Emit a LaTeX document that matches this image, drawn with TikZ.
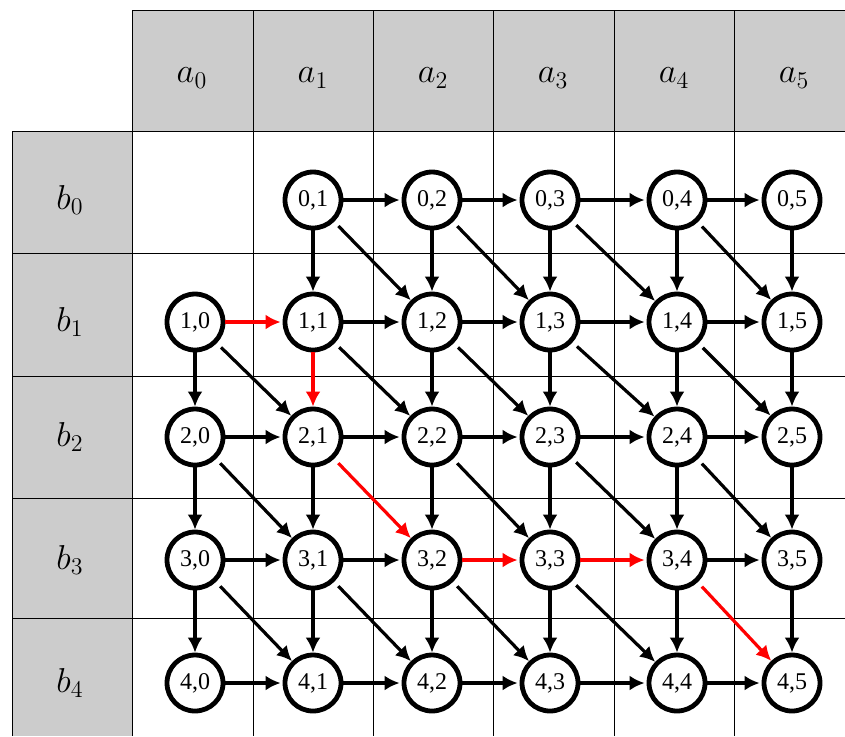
\documentclass[tikz,border=0pt]{standalone}
\usepackage{fontspec}
\newfontfamily\cellfont{Liberation Serif}
\usetikzlibrary{arrows.meta}
\definecolor{hdrgray}{RGB}{204,204,204}
% edges on the red path: r = right, d = down, g = diagonal
\newcommand\markhot[1]{\expandafter\def\csname hot#1\endcsname{}}
\markhot{10r}\markhot{11d}\markhot{21g}\markhot{32r}\markhot{33r}\markhot{34g}

\begin{document}
\begin{tikzpicture}[>={Latex[length=7.5pt,width=7.5pt]},x=.5pt,y=-.5pt,
  cell/.style={circle,draw,line width=2.4pt,minimum size=28pt,inner sep=0pt,font=\cellfont\fontsize{12}{14}\selectfont},
  hdr/.style={font=\fontsize{17}{20}\selectfont},
  gl/.style={line width=.5pt},
  link/.style={->,line width=1.6pt}]
\useasboundingbox (0,0) rectangle (845,736);
% table
\fill[hdrgray] (132,10) rectangle (845,131);\fill[hdrgray] (12,131) rectangle (132,736);
\draw[gl] (132,10)--(845,10);\draw[gl] (12,131)--(12,736);
\foreach \y in {131,253,376,498,618} \draw[gl] (12,\y)--(845,\y);
\foreach \x in {132,253,373,493,614,734} \draw[gl] (\x,10)--(\x,736);
\foreach \j/\x in {0/192,1/313,2/433,3/553,4/674,5/794} \node[hdr] (a\j) at (\x,78){$a_{\j}$};
\foreach \i/\y in {0/200,1/322,2/437,3/560,4/683} \node[hdr] (b\i) at (70,\y){$b_{\i}$};
% cells
\foreach \i/\y in {0/200,1/322,2/437,3/560,4/683}{
 \foreach \j/\x in {0/195,1/313,2/432,3/550,4/677,5/792}{
  \ifnum\i\j>0 \node[cell] (n\i\j) at (\x,\y){\i,\j};\fi}}
% right
\foreach \i in {0,...,4}{
 \foreach \j [evaluate=\j as \k using int(\j+1)] in {0,...,4}{
  \ifnum\i\j>0
   \ifcsname hot\i\j r\endcsname\def\ec{red}\else\def\ec{black}\fi
   \draw[link,color=\ec,shorten >=1pt] (n\i\j)--(n\i\k);
  \fi}}
% down
\foreach \i [evaluate=\i as \m using int(\i+1)] in {0,...,3}{
 \foreach \j in {0,...,5}{
  \ifnum\i\j>0
   \ifcsname hot\i\j d\endcsname\def\ec{red}\else\def\ec{black}\fi
   \draw[link,color=\ec] (n\i\j)--(n\m\j);
  \fi}}
% diagonal
\foreach \i [evaluate=\i as \m using int(\i+1)] in {0,...,3}{
 \foreach \j [evaluate=\j as \k using int(\j+1)] in {0,...,4}{
  \ifnum\i\j>0
   \ifcsname hot\i\j g\endcsname\def\ec{red}\else\def\ec{black}\fi
   \draw[link,color=\ec,shorten <=3pt] (n\i\j)--(n\m\k);
  \fi}}
\end{tikzpicture}
\end{document}
